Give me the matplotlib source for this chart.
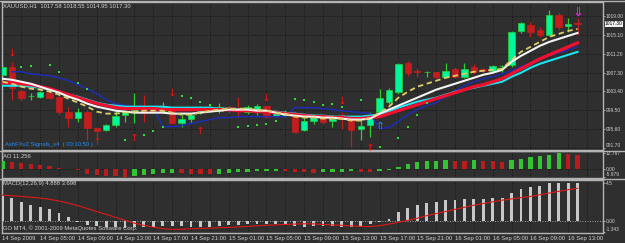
import numpy as np
import matplotlib
matplotlib.use("Agg")
import matplotlib.pyplot as plt
from matplotlib.lines import Line2D
import matplotlib.transforms as mtransforms

plt.rcParams['font.family'] = ['Liberation Sans', 'DejaVu Sans']

# ── data: XAUUSD H1, 14 Sep 01:00 .. 16 Sep 14:00 ───────────────────────────
bar_open = [1006.84, 1008.48, 1003.56, 1002.43, 1002.33, 1003.15, 1002.33, 999.25, 998.02, 999.25,
            995.97, 995.56, 996.58, 998.63, 999.45, 999.66, 1000.07, 999.45, 1000.07, 996.99,
            997.81, 999.25, 999.66, 999.45, 1000.27, 999.86, 999.25, 999.66, 1000.48, 998.43,
            998.63, 999.04, 995.56, 997.40, 998.02, 997.40, 998.63, 998.02, 995.76, 996.58,
            999.25, 1001.30, 1003.35, 1009.30, 1007.66, 1007.31, 1007.31, 1006.43, 1008.07, 1006.43,
            1008.48, 1008.07, 1007.66, 1008.68, 1008.89, 1015.86, 1017.09, 1016.07, 1015.04, 1019.14,
            1016.89, 1017.58]
bar_high = [1009.09, 1009.50, 1003.97, 1003.15, 1003.56, 1003.35, 1002.74, 1000.27, 1000.07, 999.66,
            996.17, 996.79, 999.45, 999.66, 1003.15, 1002.74, 1000.68, 1001.30, 1000.27, 998.63,
            999.04, 1000.48, 1000.48, 1001.10, 1000.68, 1002.33, 1000.68, 1000.89, 1000.68, 999.25,
            999.66, 999.45, 998.02, 998.84, 998.43, 998.63, 999.25, 998.43, 998.22, 999.25,
            1003.97, 1004.17, 1009.30, 1009.71, 1008.27, 1007.66, 1007.45, 1009.30, 1008.48, 1009.30,
            1009.09, 1008.27, 1008.89, 1008.89, 1015.86, 1017.71, 1017.71, 1016.68, 1020.17, 1019.55,
            1018.53, 1018.55]
bar_low = [1006.43, 1001.71, 1001.51, 1001.71, 1002.12, 1001.92, 998.63, 996.17, 997.20, 993.51,
           993.92, 995.35, 996.17, 997.20, 996.99, 997.20, 998.84, 999.04, 996.79, 996.17,
           996.99, 998.84, 999.25, 999.04, 999.04, 998.22, 998.84, 998.63, 998.02, 998.22,
           998.22, 994.94, 995.35, 996.79, 996.79, 996.17, 995.76, 992.07, 993.51, 994.12,
           998.84, 1000.89, 1002.94, 1006.63, 1006.43, 1006.43, 1006.22, 1006.22, 1006.22, 1006.22,
           1007.04, 1007.25, 1007.45, 1007.45, 1008.48, 1015.45, 1014.63, 1014.63, 1014.84, 1016.07,
           1015.66, 1014.95]
bar_close = [1008.48, 1004.17, 1002.12, 1002.43, 1003.35, 1002.12, 999.25, 998.02, 999.25, 995.97,
             995.35, 996.58, 998.43, 999.25, 1000.07, 999.04, 999.45, 1000.07, 996.99, 997.81,
             998.53, 1000.07, 1000.07, 1000.27, 999.66, 999.45, 1000.27, 1000.48, 998.22, 998.94,
             999.04, 995.15, 997.40, 998.43, 997.10, 998.32, 998.02, 995.56, 996.38, 998.02,
             1002.12, 1003.76, 1009.09, 1007.25, 1007.35, 1007.33, 1006.37, 1007.66, 1006.43, 1008.07,
             1007.45, 1007.56, 1008.68, 1008.70, 1015.66, 1017.50, 1015.66, 1015.04, 1019.14, 1016.68,
             1017.30, 1017.30]

ma_white = [1006.02, 1005.81, 1005.40, 1004.99, 1004.38, 1003.76, 1003.15, 1002.33, 1001.71, 1000.89,
            1000.27, 999.86, 999.45, 999.25, 999.04, 999.04, 999.04, 999.04, 998.84, 998.84,
            998.84, 999.04, 999.25, 999.45, 999.66, 999.66, 999.66, 999.45, 999.45, 999.04,
            998.63, 998.43, 998.22, 998.22, 998.02, 998.02, 997.81, 997.61, 997.61, 997.81,
            998.84, 999.66, 1000.48, 1001.30, 1002.12, 1002.94, 1003.76, 1004.38, 1004.99, 1005.61,
            1006.22, 1006.84, 1007.25, 1007.86, 1009.50, 1010.73, 1011.76, 1012.79, 1013.61, 1014.22,
            1014.84, 1015.45]
ma_cyan = [1004.58, 1004.58, 1004.58, 1004.38, 1004.17, 1003.76, 1003.35, 1002.74, 1002.33, 1001.71,
           1001.10, 1000.68, 1000.48, 1000.27, 1000.27, 1000.27, 1000.27, 1000.27, 1000.07, 1000.07,
           1000.07, 1000.07, 1000.07, 999.86, 999.86, 999.66, 999.66, 999.45, 999.25, 999.25,
           999.04, 998.84, 998.63, 998.43, 998.43, 998.22, 998.22, 998.22, 998.22, 998.43,
           998.63, 999.25, 1000.07, 1000.68, 1001.30, 1001.71, 1002.12, 1002.74, 1003.35, 1003.76,
           1004.17, 1004.58, 1004.99, 1005.40, 1006.43, 1007.25, 1008.27, 1009.09, 1009.71, 1010.32,
           1010.94, 1011.55]
ma_red = [1005.20, 1005.20, 1004.99, 1004.79, 1004.38, 1003.97, 1003.35, 1002.74, 1002.12, 1001.51,
          1000.89, 1000.48, 1000.07, 999.86, 999.86, 999.86, 999.86, 999.66, 999.66, 999.66,
          999.66, 999.66, 999.66, 999.66, 999.66, 999.45, 999.45, 999.25, 999.25, 999.04,
          998.84, 998.63, 998.43, 998.22, 998.22, 998.02, 998.02, 997.81, 997.81, 998.02,
          998.22, 998.84, 999.45, 1000.07, 1000.68, 1001.30, 1001.92, 1002.53, 1003.15, 1003.76,
          1004.38, 1004.79, 1005.40, 1006.02, 1007.04, 1008.07, 1009.09, 1010.12, 1010.94, 1011.76,
          1012.58, 1013.40]
ma_blue = [np.nan, 1007.45, 1007.45, 1007.04, 1006.84, 1006.63, 1006.22, 1005.61, 1004.79, 1003.97,
           1002.94, 1001.71, 1000.89, 1000.48, 1000.27, 1000.27, 1000.07, 996.17, 996.17, 996.38,
           996.79, 997.20, 997.61, 998.02, 998.02, 998.22, 998.22, 998.22, 998.22, 998.22,
           998.22, 1000.07, 1000.07, 1000.07, 999.86, 999.66, 999.45, 999.25, 999.04, 998.84,
           995.76, 995.97, 997.20, 998.63, 999.66, 1000.48, 1001.10, 1002.33, 1003.56, 1004.58,
           1005.40, 1006.02, 1006.43, 1007.04, 1007.66, 1008.48, 1009.30, 1010.12, 1010.73, 1011.35,
           1011.96, 1012.58]
ma_yellow = [1005.40, 1004.99, 1004.38, 1003.97, 1003.76, 1003.35, 1002.74, 1001.92, 1001.10, 1000.27,
             999.25, 998.84, 998.84, 999.04, 999.25, 999.45, 999.45, 999.45, 999.04, 998.63,
             998.63, 999.04, 999.45, 999.66, 999.86, 999.86, 999.86, 999.66, 999.45, 999.04,
             998.84, 998.22, 998.02, 998.02, 997.81, 997.81, 997.81, 997.40, 997.40, 998.02,
             999.04, 1000.27, 1002.12, 1003.35, 1004.38, 1004.99, 1005.61, 1006.22, 1006.63, 1007.04,
             1007.45, 1007.66, 1007.86, 1008.07, 1009.91, 1011.55, 1012.58, 1013.61, 1014.63, 1015.25,
             1015.86, 1016.27]

# parabolic-sar style dots (bar index, price)
sar_bar = [2, 3, 5, 6, 8, 9, 13, 15, 16, 17, 19, 20, 21, 22, 25, 26, 27, 28, 29,
           31, 32, 33, 34, 35, 36, 38, 40, 42, 43, 44, 45]
sar_price = [1008.48, 1008.68, 1008.89, 1007.45, 1005.20, 1003.97, 993.51, 994.53, 995.35, 996.17,
             1002.53, 1002.12, 1001.30, 1000.68, 996.17, 996.38, 996.58, 996.79, 997.40,
             1001.92, 1001.71, 1001.30, 1000.68, 1000.89, 1000.27, 1001.71, 992.07, 993.92, 996.17,
             998.63, 1001.10]

sell_bar = [1, 18, 28, 36]
sell_price = [1011.55, 1003.35, 1002.33, 1001.71]
buy_bar = [10, 14, 21, 39]
buy_price = [993.10, 994.12, 995.56, 992.00]

ao = [6.7, 5.8, 4.6, 3.9, 3.4, 2.2, 1.2, 0.5, -0.3, -3.8,
      -4.6, -5.0, -5.5, -5.979, -5.0, -4.4, -3.6, -2.9, -2.6, -2.8,
      -3.4, -3.6, -3.9, -3.5, -2.7, -2.3, -1.8, -1.5, -1.2, -1.1,
      -1.4, -1.8, -2.3, -2.6, -2.3, -1.9, -1.7, -1.5, -1.8, -1.9,
      -1.0, -0.3, 1.8, 3.8, 5.5, 6.3, 6.7, 6.9, 6.7, 6.6,
      6.8, 6.3, 6.1, 5.8, 6.9, 7.9, 9.2, 10.3, 11.3, 12.767,
      11.9, 11.256]

macd_main = [3.0, 2.67, 2.27, 1.87, 1.67, 1.40, 0.88, 0.40, -0.10, -0.50,
             -0.63, -0.70, -0.75, -0.87, -0.80, -0.75, -0.70, -0.63, -0.63, -0.63,
             -0.70, -0.70, -0.75, -0.63, -0.55, -0.50, -0.45, -0.45, -0.40, -0.40,
             -0.50, -0.63, -0.70, -0.63, -0.63, -0.63, -0.70, -0.75, -0.75, -0.45,
             -0.10, 0.20, 1.07, 1.48, 1.87, 2.15, 2.27, 2.47, 2.47, 2.55,
             2.63, 2.63, 2.67, 2.67, 3.27, 3.75, 4.06, 4.18, 4.46, 4.46,
             4.53, 4.53]
macd_signal = [3.04, 2.98, 2.90, 2.80, 2.70, 2.55, 2.35, 2.10, 1.80, 1.45,
               1.10, 0.75, 0.40, 0.05, -0.30, -0.55, -0.78, -0.95, -1.03, -1.02,
               -0.97, -0.92, -0.88, -0.84, -0.80, -0.75, -0.68, -0.60, -0.55, -0.50,
               -0.45, -0.40, -0.37, -0.38, -0.45, -0.50, -0.55, -0.62, -0.68, -0.70,
               -0.60, -0.40, -0.20, 0.05, 0.30, 0.60, 0.85, 1.10, 1.35, 1.60,
               1.85, 2.05, 2.25, 2.45, 2.60, 2.75, 2.90, 3.10, 3.30, 3.50,
               3.70, 3.87]

price_ticks = [1019.00, 1015.10, 1011.20, 1007.30, 1003.40, 999.50, 995.60, 991.70]
ao_ticks = [12.767, 0.0, -5.979]
ao_tick_labels = ["12.767", "0.00", "-5.979"]
macd_ticks = [4.5, 0.0, -1.343]
macd_tick_labels = ["4.5", "0.00", "-1.343"]
time_tick_bars = [0, 4, 8, 12, 16, 20, 24, 28, 32, 36, 40, 44, 48, 52, 56, 60]
time_tick_labels = ["14 Sep 2009", "14 Sep 05:00", "14 Sep 09:00", "14 Sep 13:00",
                    "14 Sep 17:00", "14 Sep 21:00", "15 Sep 01:00", "15 Sep 05:00",
                    "15 Sep 09:00", "15 Sep 13:00", "15 Sep 17:00", "15 Sep 21:00",
                    "16 Sep 01:00", "16 Sep 05:00", "16 Sep 09:00", "16 Sep 13:00"]
last_price = 1017.30

# ── styling ──────────────────────────────────────────────────────────────────
BG = "#2f2f2f"
FRAME = "#b4b4b4"
TXT = "#d2d2d2"
FS = 4.2      # left-side labels and time axis
FS_R = 3.5    # right price scale
BULL_BODY = "#00f59c"
BULL_WICK = "#2ecc2e"
BEAR = "#c41d1d"
W, H = 625, 243

fig = plt.figure(figsize=(6.25, 2.43), dpi=100, facecolor=BG)

def px_axes(top, bottom, left=2, right=603):
    return fig.add_axes([left / W, 1 - bottom / H, (right - left) / W, (bottom - top) / H])

ax_p = px_axes(2, 150)
ax_ao = px_axes(151, 178)
ax_m = px_axes(180, 233)

x = np.arange(len(bar_close))
for ax in (ax_p, ax_ao, ax_m):
    ax.set_facecolor(BG)
    ax.set_xlim(-0.05, 63.7)
    for s in ax.spines.values():
        s.set_color(FRAME)
        s.set_linewidth(1.0)
    ax.yaxis.tick_right()
    ax.tick_params(axis="y", colors=FRAME, labelcolor=TXT, labelsize=FS_R, length=1.2, width=0.6, pad=0.8)
    ax.set_xticks(time_tick_bars)
    ax.set_xticks(np.arange(0, 64, 2), minor=True)
    ax.tick_params(axis="x", which="both", length=0)
    ax.xaxis.grid(True, which="both", color="#0c0c0c", linestyle=(0, (1, 2)), linewidth=0.6)
    ax.set_axisbelow(True)

# ── main price panel ─────────────────────────────────────────────────────────
o = np.array(bar_open); c = np.array(bar_close)
h = np.array(bar_high); l = np.array(bar_low)
bull = c >= o
wick_col = np.where(bull, BULL_WICK, BEAR)
body_col = np.where(bull, BULL_BODY, BEAR)
ax_p.vlines(x, l, h, colors=wick_col, linewidth=0.9, zorder=2)
ax_p.bar(x, np.abs(c - o), bottom=np.minimum(o, c), width=0.68,
         color=body_col, edgecolor=wick_col, linewidth=0.5, zorder=3)

ax_p.plot(x, ma_blue, color="#1d2db4", lw=1.1, zorder=4)
ax_p.plot(x, ma_cyan, color="#19e6f0", lw=1.5, zorder=5)
ax_p.plot(x, ma_red, color="#ee1030", lw=2.4, zorder=6)
ax_p.plot(x, ma_white, color="#f4f4f4", lw=1.5, zorder=7)
ax_p.plot(x, ma_yellow, color="#dccf6a", lw=1.3, linestyle=(0, (3, 2)), zorder=8)

ax_p.scatter(sar_bar, sar_price, s=2.5, marker="s", color="#33dd33", linewidths=0, zorder=9)
ax_p.scatter(sell_bar, sell_price, s=28, marker=r"$\downarrow$", color="#e41414", linewidths=0, zorder=9)
ax_p.scatter(buy_bar, buy_price, s=28, marker=r"$\uparrow$", color="#e41414", linewidths=0, zorder=9)
ax_p.scatter([61], [1019.95], s=45, marker=r"$\Downarrow$", color="#ff20ff", linewidths=0, zorder=9)
ax_p.scatter([40], [996.4], s=30, marker=r"$\Uparrow$", color="#2a8cff", linewidths=0, zorder=9)

ax_p.set_ylim(991.35, 1021.82)
ax_p.set_yticks(price_ticks, [f"{v:.2f}" for v in price_ticks])
ax_p.yaxis.grid(True, color="#0c0c0c", linestyle=(0, (1, 2)), linewidth=0.6)
ax_p.tick_params(axis="x", labelbottom=False)
ax_p.get_yticklabels()[-1].set_va("bottom")

bt = mtransforms.blended_transform_factory(ax_p.transAxes, ax_p.transData)
ax_p.text(1.0035, last_price, f"{last_price:.2f}", transform=bt, fontsize=FS_R, color="black",
          va="center", ha="left", zorder=10,
          bbox=dict(boxstyle="square,pad=0.1", fc="#f0f0f0", ec="none"))

ax_p.text(0.002, 0.972, "XAUUSD,H1  1017.58 1018.55 1014.95 1017.30", transform=ax_p.transAxes,
          fontsize=FS, color=TXT, va="center", ha="left")
ax_p.text(0.005, 0.04, "AshFXv2 Signals_v4  ( 00:10:50 )", transform=ax_p.transAxes,
          fontsize=FS, color="#2a8cf0", va="center", ha="left")

# ── AO panel ─────────────────────────────────────────────────────────────────
ao_arr = np.array(ao)
ao_up = np.concatenate([[True], ao_arr[1:] > ao_arr[:-1]])
ax_ao.bar(x, ao_arr, width=0.45, color=np.where(ao_up, "#33c433", "#b81c1c"), zorder=3)
ax_ao.axhline(0, color="#0c0c0c", linestyle=(0, (1, 2)), linewidth=0.6, zorder=1)
ax_ao.set_ylim(-6.69, 14.08)
ax_ao.set_yticks(ao_ticks, ao_tick_labels)
ax_ao.get_yticklabels()[-1].set_va("bottom")
ax_ao.tick_params(axis="x", labelbottom=False)
ax_ao.text(0.002, 0.78, "AO 11.256", transform=ax_ao.transAxes, fontsize=FS, color=TXT,
           va="center", ha="left")

# ── MACD panel ───────────────────────────────────────────────────────────────
ax_m.bar(x, macd_main, width=0.3, color="#c8c8c8", zorder=3)
ax_m.plot(x, macd_signal, color="#e01818", lw=0.8, zorder=4)
ax_m.axhline(0, color="#c8c8c8", linestyle=(0, (1, 2)), linewidth=0.6, zorder=1)
ax_m.set_ylim(-1.468, 4.857)
ax_m.set_yticks(macd_ticks, macd_tick_labels)
ax_m.get_yticklabels()[-1].set_va("bottom")
ax_m.set_xticklabels(time_tick_labels)
ax_m.tick_params(axis="x", labelsize=FS, labelcolor=TXT, pad=2.5)
for t in ax_m.get_xticklabels():
    t.set_ha("left")
ax_m.text(0.002, 0.925, "MACD(12,26,9) 4.888 3.698", transform=ax_m.transAxes, fontsize=FS,
          color=TXT, va="center", ha="left")
ax_m.text(0.002, 0.09, "GO MT4, \u00a9 2001-2009 MetaQuotes Software Corp.", transform=ax_m.transAxes,
          fontsize=FS, color=TXT, va="center", ha="left")

# panel separators across the whole window
for ypx in (1, 150.5, 179):
    fig.add_artist(Line2D([0, 1], [1 - ypx / H, 1 - ypx / H], transform=fig.transFigure,
                          color=FRAME, linewidth=1.0))

fig.savefig("out.png", dpi=100, facecolor=BG)
